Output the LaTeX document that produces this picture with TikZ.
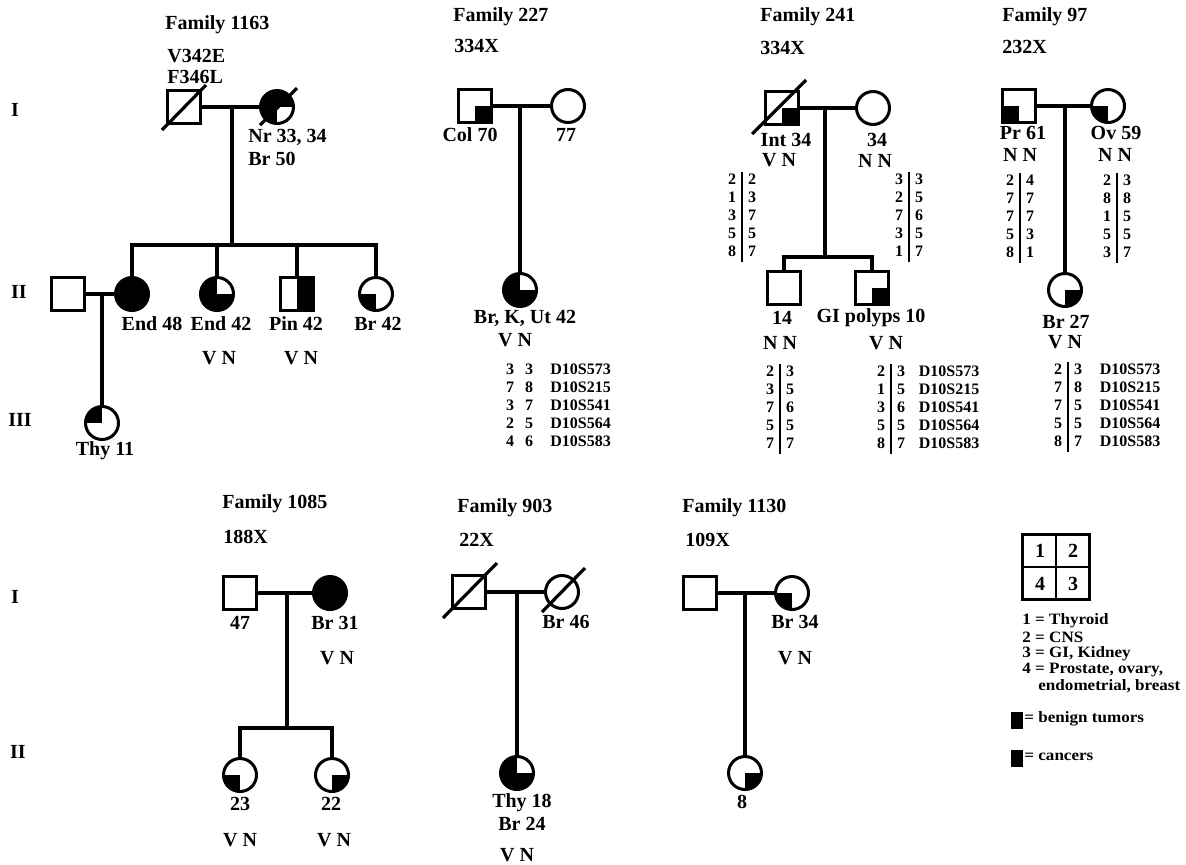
\documentclass[tikz,border=0pt]{standalone}
\usepackage{fontspec}
\setmainfont{Liberation Serif}
\newfontfamily\legfont[FakeStretch=1.08]{Liberation Serif}
\usetikzlibrary{calc}
\newcommand{\fa}{\fontsize{10}{10.5}\selectfont\bfseries}
\newcommand{\fb}{\fontsize{8}{9}\selectfont\bfseries}
\newcommand{\fl}{\legfont\fontsize{7.9}{8.3}\selectfont\bfseries}
\newcommand{\hapl}[1]{{\fb\setlength{\tabcolsep}{3pt}\setlength{\arrayrulewidth}{1pt}\begin{tabular}{c|c}#1\end{tabular}}}
\newcommand{\hapn}[1]{{\fb\setlength{\tabcolsep}{2.75pt}\begin{tabular}{cc}#1\end{tabular}}}
\newcommand{\mkl}{{\fb\setlength{\tabcolsep}{0pt}\begin{tabular}{l}D10S573\\D10S215\\D10S541\\D10S564\\D10S583\end{tabular}}}
\newcommand{\qc}[2]{\begin{scope}\clip (#1.center) circle[radius=16.5];\fill (#1.center) rectangle ++#2;\end{scope}}
\begin{document}
\begin{tikzpicture}[x=0.5pt,y=-0.5pt,
 male/.style={draw,rectangle,minimum size=16.5pt,inner sep=0pt,line width=1.5pt},
 female/.style={draw,circle,minimum size=16.5pt,inner sep=0pt,line width=1.5pt},
 rel/.style={line width=1.6pt},
 dead/.style={line width=1.6pt},
 lab/.style={font=\fa,inner sep=0pt},
 gen/.style={font=\fa,inner sep=0pt},
 hap/.style={inner sep=0pt},
 leg/.style={font=\fl,inner sep=0pt,anchor=west},
 legbox/.style={fill=black,minimum width=6pt,minimum height=8.5pt,inner sep=0pt}
]
\path[use as bounding box] (0,0) rectangle (1186,864);

% generation labels
\node[gen] (g1) at (15,110) {I};
\node[gen] (g2) at (19,292) {II};
\node[gen] (g3) at (20,420) {III};
\node[gen] (g4) at (15,597) {I};
\node[gen] (g5) at (18,752) {II};

% ---------------- Family 1163
\node[lab,anchor=west] (t1163) at (165,25) {Family 1163};
\node[lab,anchor=west] (m1163a) at (167,56) {V342E};
\node[lab,anchor=west] (m1163b) at (167,77) {F346L};
\node[male] (a1) at (184,107) {};
\node[female] (a2) at (277,107) {};
\qc{a2}{(-20,-20)}\qc{a2}{(20,-20)}\qc{a2}{(-20,20)}
\draw[dead] ($(a1.center)+(-22,23)$) -- ($(a1.center)+(22,-22)$);
\draw[dead] ($(a2.center)+(-17,18)$) -- ($(a2.center)+(20,-19)$);
\draw[rel] (a1.east) -- (a2.west);
\coordinate (a12) at (232,107);
\coordinate (as) at (232,245);
\draw[rel] (a12) -- (as);
\node[female,fill=black] (a3) at (132,294) {};
\node[female] (a4) at (217,294) {};
\qc{a4}{(-20,-20)}\qc{a4}{(20,20)}\qc{a4}{(-20,20)}
\node[male] (a5) at (297,294) {};
\fill (a5.north) rectangle (a5.south east);
\node[female] (a6) at (376,294) {};
\qc{a6}{(-20,20)}
\draw[rel] (a3.north) |- (as) -| (a6.north);
\draw[rel] (a4.north) -- (a4.north |- as);
\draw[rel] (a5.north) -- (a5.north |- as);
\node[male] (a7) at (68,294) {};
\draw[rel] (a7.east) -- (a3.west);
\coordinate (a73) at (102,294);
\node[female] (a8) at (102,423) {};
\qc{a8}{(-20,-20)}
\draw[rel] (a73) -- (a8.north);
\node[lab,anchor=west] (l1) at (248,137) {Nr 33, 34};
\node[lab,anchor=west] (l2) at (248,159) {Br 50};
\node[lab] (l3) at (152,324) {End 48};
\node[lab] (l4) at (221,324) {End 42};
\node[lab] (l5) at (296,324) {Pin 42};
\node[lab] (l6) at (378,324) {Br 42};
\node[lab] (l7) at (219,358) {V N};
\node[lab] (l8) at (301,358) {V N};
\node[lab] (l9) at (105,451) {Thy 11};

% ---------------- Family 227
\node[lab,anchor=west] (t227) at (453,17) {Family 227};
\node[lab,anchor=west] (m227) at (454,46) {334X};
\node[male] (b1) at (475,106) {};
\fill (b1.center) rectangle (b1.south east);
\node[female] (b2) at (568,106) {};
\draw[rel] (b1.east) -- (b2.west);
\coordinate (b12) at (520,106);
\node[female] (b3) at (520,290) {};
\qc{b3}{(-20,-20)}\qc{b3}{(20,20)}\qc{b3}{(-20,20)}
\draw[rel] (b12) -- (b3.north);
\node[lab] (bl1) at (470,135) {Col 70};
\node[lab] (bl2) at (566,135) {77};
\node[lab] (bl3) at (525,318) {Br, K, Ut 42};
\node[lab] (bl4) at (515,340) {V N};
\node[hap] (bh) at (519.5,407) {\hapn{3&3\\7&8\\3&7\\2&5\\4&6}};
\node[hap,anchor=west] (bm) at ($(bh.east)+(11,0)$) {\mkl};

% ---------------- Family 241
\node[lab,anchor=west] (t241) at (760,17) {Family 241};
\node[lab,anchor=west] (m241) at (760,48) {334X};
\node[male] (c1) at (782,108) {};
\fill (c1.center) rectangle (c1.south east);
\draw[dead] ($(c1.center)+(-30,26)$) -- ($(c1.center)+(24,-28)$);
\node[female] (c2) at (873,108) {};
\draw[rel] (c1.east) -- (c2.west);
\coordinate (c12) at (825,108);
\coordinate (cs) at (825,257);
\draw[rel] (c12) -- (cs);
\node[male] (c3) at (784,288) {};
\node[male] (c4) at (872,288) {};
\fill (c4.center) rectangle (c4.south east);
\draw[rel] (c3.north) |- (cs) -| (c4.north);
\node[lab] (cl1) at (786,140) {Int 34};
\node[lab] (cl2) at (779,160) {V N};
\node[lab] (cl3) at (877,140) {34};
\node[lab] (cl4) at (875,161) {N N};
\node[lab] (cl5) at (782,318) {14};
\node[lab] (cl6) at (871,318) {GI polyps 10};
\node[lab] (cl7) at (780,343) {N N};
\node[lab] (cl8) at (886,343) {V N};
\node[hap] (ch1) at (742,217) {\hapl{2&2\\1&3\\3&7\\5&5\\8&7}};
\node[hap] (ch2) at (909,217) {\hapl{3&3\\2&5\\7&6\\3&5\\1&7}};
\node[hap] (ch3) at (780,409) {\hapl{2&3\\3&5\\7&6\\5&5\\7&7}};
\node[hap] (ch4) at (891,409) {\hapl{2&3\\1&5\\3&6\\5&5\\8&7}};
\node[hap,anchor=west] (cm) at ($(ch4.east)+(7,0)$) {\mkl};

% ---------------- Family 97
\node[lab,anchor=west] (t97) at (1002,17) {Family 97};
\node[lab,anchor=west] (m97) at (1002,47) {232X};
\node[male] (d1) at (1019,106) {};
\fill (d1.center) rectangle (d1.south west);
\node[female] (d2) at (1108,106) {};
\qc{d2}{(-20,20)}
\draw[rel] (d1.east) -- (d2.west);
\coordinate (d12) at (1065,106);
\node[female] (d3) at (1065,290) {};
\qc{d3}{(20,20)}
\draw[rel] (d12) -- (d3.north);
\node[lab] (dl1) at (1023,133) {Pr 61};
\node[lab] (dl2) at (1020,155) {N N};
\node[lab] (dl3) at (1116,133) {Ov 59};
\node[lab] (dl4) at (1115,155) {N N};
\node[lab] (dl5) at (1066,322) {Br 27};
\node[lab] (dl6) at (1065,342) {V N};
\node[hap] (dh1) at (1020,218) {\hapl{2&4\\7&7\\7&7\\5&3\\8&1}};
\node[hap] (dh2) at (1117,218) {\hapl{2&3\\8&8\\1&5\\5&5\\3&7}};
\node[hap] (dh3) at (1068,407) {\hapl{2&3\\7&8\\7&5\\5&5\\8&7}};
\node[hap,anchor=west] (dm) at ($(dh3.east)+(11,0)$) {\mkl};

% ---------------- Family 1085
\node[lab,anchor=west] (t1085) at (222,504) {Family 1085};
\node[lab,anchor=west] (m1085) at (223,537) {188X};
\node[male] (e1) at (240,593) {};
\node[female,fill=black] (e2) at (330,593) {};
\draw[rel] (e1.east) -- (e2.west);
\coordinate (e12) at (287,593);
\coordinate (es) at (287,728);
\draw[rel] (e12) -- (es);
\node[female] (e3) at (240,775) {};
\qc{e3}{(-20,20)}
\node[female] (e4) at (332,775) {};
\qc{e4}{(20,20)}
\draw[rel] (e3.north) |- (es) -| (e4.north);
\node[lab] (el1) at (240,623) {47};
\node[lab] (el2) at (335,623) {Br 31};
\node[lab] (el3) at (337,658) {V N};
\node[lab] (el4) at (240,804) {23};
\node[lab] (el5) at (331,804) {22};
\node[lab] (el6) at (240,840) {V N};
\node[lab] (el7) at (334,840) {V N};

% ---------------- Family 903
\node[lab,anchor=west] (t903) at (457,508) {Family 903};
\node[lab,anchor=west] (m903) at (459,540) {22X};
\node[male] (f1) at (469,592) {};
\draw[dead] ($(f1.center)+(-26,26)$) -- ($(f1.center)+(28,-29)$);
\node[female] (f2) at (562,592) {};
\draw[dead] ($(f2.center)+(-20,20)$) -- ($(f2.center)+(23,-24)$);
\draw[rel] (f1.east) -- (f2.west);
\coordinate (f12) at (517,592);
\node[female] (f3) at (517,773) {};
\qc{f3}{(-20,-20)}\qc{f3}{(20,20)}\qc{f3}{(-20,20)}
\draw[rel] (f12) -- (f3.north);
\node[lab] (fl1) at (566,622) {Br 46};
\node[lab] (fl2) at (522,803) {Thy 18};
\node[lab] (fl3) at (522,824) {Br 24};
\node[lab] (fl4) at (517,855) {V N};

% ---------------- Family 1130
\node[lab,anchor=west] (t1130) at (682,508) {Family 1130};
\node[lab,anchor=west] (m1130) at (685,540) {109X};
\node[male] (h1) at (700,593) {};
\node[female] (h2) at (792,593) {};
\qc{h2}{(-20,20)}
\draw[rel] (h1.east) -- (h2.west);
\coordinate (h12) at (745,593);
\node[female] (h3) at (745,773) {};
\qc{h3}{(20,20)}
\draw[rel] (h12) -- (h3.north);
\node[lab] (hl1) at (795,622) {Br 34};
\node[lab] (hl2) at (795,658) {V N};
\node[lab] (hl3) at (742,802) {8};

% ---------------- Legend
\node[draw,line width=1.2pt,minimum width=33.5pt,minimum height=32.5pt,inner sep=0pt] (lg) at (1056,567) {};
\draw[line width=0.7pt] (lg.north) -- (lg.south);
\draw[line width=0.7pt] (lg.west) -- (lg.east);
\node[lab] (lq1) at (1040,551) {1};
\node[lab] (lq2) at (1073,551) {2};
\node[lab] (lq4) at (1040,584) {4};
\node[lab] (lq3) at (1073,584) {3};
\node[leg] (lt1) at (1022,621) {1 = Thyroid};
\node[leg] (lt2) at (1022,637) {2 = CNS};
\node[leg] (lt3) at (1022,654) {3 = GI, Kidney};
\node[leg] (lt4) at (1022,670) {4 = Prostate, ovary,};
\node[leg] (lt5) at (1038,686) {endometrial, breast};
\node[legbox] (lb1) at (1017,720) {};
\node[leg] (lt6) at (1024,719) {= benign tumors};
\node[legbox] (lb2) at (1017,758) {};
\node[leg] (lt7) at (1024,757) {= cancers};
\end{tikzpicture}
\end{document}
